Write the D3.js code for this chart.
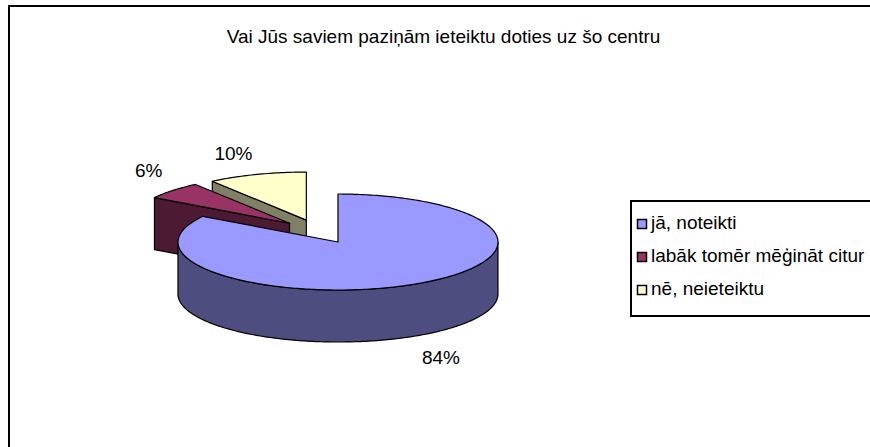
<!DOCTYPE html>
<html>
<head>
<meta charset="utf-8">
<script src="https://cdn.jsdelivr.net/npm/d3@7"></script>
<style>
  body { margin: 0; background: #fff; }
  text { font-family: "Liberation Sans", Arial, sans-serif; fill: #000; }
</style>
</head>
<body>
<div class="chart"></div>
<script>
// data
const title = "Vai Jūs saviem paziņām ieteiktu doties uz šo centru";
const categories = ["jā, noteikti", "labāk tomēr mēģināt citur", "nē, neieteiktu"];
const values = [84, 6, 10];

const topColor = d3.scaleOrdinal().domain(categories).range(["#9999FF", "#993366", "#FFFFCC"]);
const sideColor = d3.scaleOrdinal().domain(categories).range(["#4D4D80", "#4D1A33", "#808066"]);

const W = 870, H = 447;
let svg = d3.select("div.chart").append("svg").attr("width", W).attr("height", H);

// chart frame (runs off the right and bottom edges)
svg.append("rect")
  .attr("x", 9).attr("y", 6).attr("width", 880).attr("height", 460)
  .attr("fill", "#fff").attr("stroke", "#000").attr("stroke-width", 2);

svg.append("text")
  .attr("x", 443.5).attr("y", 43)
  .attr("text-anchor", "middle")
  .style("font-size", "19px")
  .text(title);

// 3D pie geometry
const cx = 318.7, cy = 231.5;   // pie centre (top face)
const R = 160, k = 0.3;          // horizontal radius, vertical squash
const depth = 52, explode = 40;
const total = d3.sum(values);

const arcs = d3.pie().sort(null).value(d => d)(values)
  .map((a, i) => {
    const mid = (a.startAngle + a.endAngle) / 2;
    return Object.assign(a, {
      name: categories[i],
      mid: mid,
      ox: cx + explode * Math.sin(mid),
      oy: cy - explode * k * Math.cos(mid)
    });
  });

function pt(a, ang, r, h) {
  return [a.ox + r * Math.sin(ang), a.oy - r * k * Math.cos(ang) + h];
}

function arcPoints(a, a0, a1, h) {
  const n = Math.max(2, Math.ceil((a1 - a0) / (Math.PI / 180)));
  return d3.range(n + 1).map(j => pt(a, a0 + (a1 - a0) * j / n, R, h));
}

const line = d3.line();

// back slices first
const order = arcs.slice().sort((a, b) => -Math.cos(a.mid) - -Math.cos(b.mid));

const pieG = svg.append("g");
order.forEach(a => {
  const g = pieG.append("g");
  const fill = sideColor(a.name);

  // cut face at start angle
  if (Math.sin(a.startAngle) < -1e-6) {
    g.append("path")
      .attr("d", line([pt(a, 0, 0, 0), pt(a, a.startAngle, R, 0), pt(a, a.startAngle, R, depth), pt(a, 0, 0, depth)]) + "Z")
      .attr("fill", fill).attr("stroke", "#000").attr("stroke-width", 1.2).attr("stroke-linejoin", "round");
  }
  // cut face at end angle
  if (Math.sin(a.endAngle) > 1e-6) {
    g.append("path")
      .attr("d", line([pt(a, 0, 0, 0), pt(a, a.endAngle, R, 0), pt(a, a.endAngle, R, depth), pt(a, 0, 0, depth)]) + "Z")
      .attr("fill", fill).attr("stroke", "#000").attr("stroke-width", 1.2).attr("stroke-linejoin", "round");
  }
  // outer wall, front half only
  const s0 = Math.max(a.startAngle, Math.PI / 2), s1 = Math.min(a.endAngle, 3 * Math.PI / 2);
  if (s1 > s0) {
    const pts = arcPoints(a, s0, s1, 0).concat(arcPoints(a, s0, s1, depth).reverse());
    g.append("path")
      .attr("d", line(pts) + "Z")
      .attr("fill", fill).attr("stroke", "#000").attr("stroke-width", 1.2).attr("stroke-linejoin", "round");
  }
  // top face
  const topPts = [pt(a, 0, 0, 0)].concat(arcPoints(a, a.startAngle, a.endAngle, 0));
  g.append("path")
    .attr("d", line(topPts) + "Z")
    .attr("fill", topColor(a.name)).attr("stroke", "#000").attr("stroke-width", 1.2).attr("stroke-linejoin", "round");
});

// percentage labels, placed outside the (unexploded) ellipse
arcs.forEach(a => {
  const s = Math.sin(a.mid), c = -Math.cos(a.mid);
  const x = cx + 1.34 * R * s;
  const y = cy + 1.34 * R * k * c + (c > 0 ? depth : 0) + 17 * Math.sign(c) + 7;
  svg.append("text")
    .attr("x", x)
    .attr("y", y)
    .attr("text-anchor", s >= 0 ? "start" : "end")
    .style("font-size", "19px")
    .text(Math.round(a.value / total * 100) + "%");
});

// legend
const legend = svg.append("g").attr("transform", "translate(631,201)");
legend.append("rect")
  .attr("width", 300).attr("height", 115)
  .attr("fill", "#fff").attr("stroke", "#000").attr("stroke-width", 2);

const ly = d3.scalePoint().domain(categories).range([22, 88]);
const item = legend.selectAll("g.item").data(categories).enter()
  .append("g").attr("class", "item")
  .attr("transform", d => "translate(0," + ly(d) + ")");
item.append("rect")
  .attr("x", 6.5).attr("y", -3.5).attr("width", 9).attr("height", 9)
  .attr("fill", d => topColor(d)).attr("stroke", "#000").attr("stroke-width", 1.5);
item.append("text")
  .attr("x", 20).attr("y", 6)
  .style("font-size", "19px")
  .text(d => d);
</script>
</body>
</html>
